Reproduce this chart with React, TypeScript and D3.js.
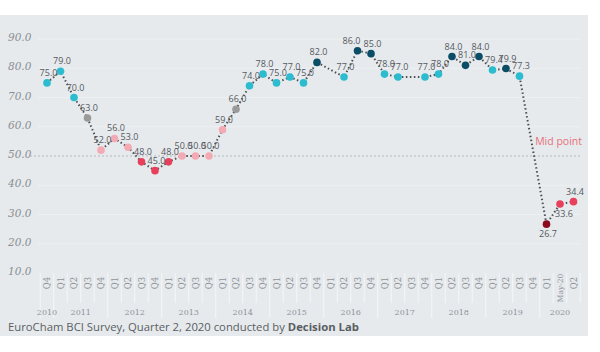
import React from 'react'
import * as d3 from 'd3'

// one entry per quarter on the x axis
const periods = [
  '2010 Q4',
  '2011 Q1', '2011 Q2', '2011 Q3', '2011 Q4',
  '2012 Q1', '2012 Q2', '2012 Q3', '2012 Q4',
  '2013 Q1', '2013 Q2', '2013 Q3', '2013 Q4',
  '2014 Q1', '2014 Q2', '2014 Q3', '2014 Q4',
  '2015 Q1', '2015 Q2', '2015 Q3', '2015 Q4',
  '2016 Q1', '2016 Q2', '2016 Q3', '2016 Q4',
  '2017 Q1', '2017 Q2', '2017 Q3', '2017 Q4',
  '2018 Q1', '2018 Q2', '2018 Q3', '2018 Q4',
  '2019 Q1', '2019 Q2', '2019 Q3', '2019 Q4',
  '2020 Q1', '2020 May-20', '2020 Q2',
]
const bciValues = [
  75.0,
  79.0, 70.0, 63.0, 52.0,
  56.0, 53.0, 48.0, 45.0,
  48.0, 50.0, 50.0, 50.0,
  59.0, 66.0, 74.0, 78.0,
  75.0, 77.0, 75.0, 82.0,
  null, 77.0, 86.0, 85.0,
  78.0, 77.0, null, 77.0,
  78.0, 84.0, 81.0, 84.0,
  79.4, 79.9, 77.3, null,
  26.7, 33.6, 34.4,
]
const years = ['2010', '2011', '2012', '2013', '2014', '2015', '2016', '2017', '2018', '2019', '2020']
const yTicks = [10, 20, 30, 40, 50, 60, 70, 80, 90]
const midPoint = 50

const W = 600
const H = 352

export default function App() {
  const svgRef = React.useRef(null)

  React.useEffect(() => {
    const svg = d3.select(svgRef.current)
    svg.selectAll('*').remove()

    const x = d3.scaleBand().domain(periods).range([40.25, 580.25]).padding(0)
    const cx = (p) => x(p) + x.bandwidth() / 2
    const y = d3.scaleLinear().domain([10, 90]).range([273, 39])

    const color = d3
      .scaleThreshold()
      .domain([30, 40, 50, 60, 70, 79.5])
      .range(['#8c0a1e', '#e8405a', '#e8405a', '#f4aab4', '#9a9a9a', '#2bbccf', '#0b4d66'])

    // background panel
    svg.append('rect').attr('x', 0).attr('y', 15).attr('width', 588).attr('height', 321).attr('fill', '#e6eaed')

    // faint gridlines
    svg
      .append('g')
      .selectAll('line')
      .data(yTicks.filter((t) => t !== midPoint && t !== 10))
      .enter()
      .append('line')
      .attr('x1', 38)
      .attr('x2', 580)
      .attr('y1', (d) => y(d))
      .attr('y2', (d) => y(d))
      .attr('stroke', '#eef1f3')
      .attr('stroke-width', 1)

    // y labels
    svg
      .append('g')
      .selectAll('text')
      .data(yTicks)
      .enter()
      .append('text')
      .attr('x', 8)
      .attr('y', (d) => y(d) + 2)
      .attr('font-family', 'DejaVu Serif, serif')
      .attr('font-style', 'italic')
      .attr('font-size', 10.5)
      .attr('fill', '#8a8f94')
      .text((d) => d.toFixed(1))

    // mid point line
    svg
      .append('line')
      .attr('x1', 30)
      .attr('x2', 580)
      .attr('y1', y(midPoint))
      .attr('y2', y(midPoint))
      .attr('stroke', '#b5b9bc')
      .attr('stroke-width', 1)
      .attr('stroke-dasharray', '2,2')
    svg
      .append('text')
      .attr('x', 582)
      .attr('y', y(midPoint) - 11)
      .attr('text-anchor', 'end')
      .attr('font-family', 'Open Sans, sans-serif')
      .attr('font-size', 10.5)
      .attr('fill', '#e8707c')
      .text('Mid point')

    // x axis: column separators
    const axisTop = y(10)
    svg
      .append('g')
      .selectAll('line')
      .data(periods)
      .enter()
      .append('line')
      .attr('x1', (d) => x(d))
      .attr('x2', (d) => x(d))
      .attr('y1', axisTop)
      .attr('y2', (d, i) => (i === 0 || d.endsWith('Q1') ? 318 : 303))
      .attr('stroke', '#f4f6f7')
      .attr('stroke-width', 1)
    svg
      .append('line')
      .attr('x1', x.range()[1])
      .attr('x2', x.range()[1])
      .attr('y1', axisTop)
      .attr('y2', 303)
      .attr('stroke', '#f4f6f7')

    svg
      .append('g')
      .selectAll('text')
      .data(periods)
      .enter()
      .append('text')
      .attr('transform', (d) => `translate(${cx(d) + 3}, ${d.endsWith('May-20') ? 288 : 283}) rotate(-90)`)
      .attr('text-anchor', 'middle')
      .attr('font-family', 'DejaVu Serif, serif')
      .attr('font-size', (d) => (d.endsWith('May-20') ? 7.5 : 8.5))
      .attr('fill', '#8e9398')
      .text((d) => d.split(' ')[1])

    svg
      .append('g')
      .selectAll('text')
      .data(years)
      .enter()
      .append('text')
      .attr('x', (yr) => {
        const ps = periods.filter((p) => p.startsWith(yr))
        return (cx(ps[0]) + cx(ps[ps.length - 1])) / 2
      })
      .attr('y', 315)
      .attr('text-anchor', 'middle')
      .attr('font-family', 'DejaVu Serif, serif')
      .attr('font-size', 8)
      .attr('fill', '#8e9398')
      .text((d) => d)

    const pts = periods.map((p, i) => ({ p, i, v: bciValues[i] })).filter((d) => d.v !== null)

    // dotted line
    const line = d3
      .line()
      .x((d) => cx(d.p))
      .y((d) => y(d.v))
    svg
      .append('path')
      .datum(pts)
      .attr('d', line)
      .attr('fill', 'none')
      .attr('stroke', '#4a4f54')
      .attr('stroke-width', 2)
      .attr('stroke-dasharray', '1.5,2.5')

    // points
    svg
      .append('g')
      .selectAll('circle')
      .data(pts)
      .enter()
      .append('circle')
      .attr('cx', (d) => cx(d.p))
      .attr('cy', (d) => y(d.v))
      .attr('r', 3.8)
      .attr('fill', (d) => color(d.v))

    // labels
    const below = (d) => d.v < 30 || d.p === '2020 May-20'
    svg
      .append('g')
      .selectAll('text')
      .data(pts)
      .enter()
      .append('text')
      .attr('x', (d) => cx(d.p) + (d.p === '2020 May-20' ? 4 : d.p === '2016 Q3' ? -6 : 1.5))
      .attr('y', (d) => y(d.v) + (below(d) ? 13 : -7))
      .attr('text-anchor', 'middle')
      .attr('font-family', 'Open Sans, sans-serif')
      .attr('font-size', 9)
      .attr('fill', '#55595d')
      .text((d) => d.v.toFixed(1))

    // footer
    const foot = svg
      .append('text')
      .attr('x', 8)
      .attr('y', 331)
      .attr('font-family', 'Open Sans, sans-serif')
      .attr('font-size', 11.3)
      .attr('fill', '#5a5e62')
    foot.append('tspan').text('EuroCham BCI Survey, Quarter 2, 2020 conducted by ')
    foot.append('tspan').attr('font-weight', 'bold').text('Decision Lab')
  }, [])

  return <svg ref={svgRef} width={W} height={H} style={{ position: 'absolute', left: 0, top: 0 }}></svg>
}
